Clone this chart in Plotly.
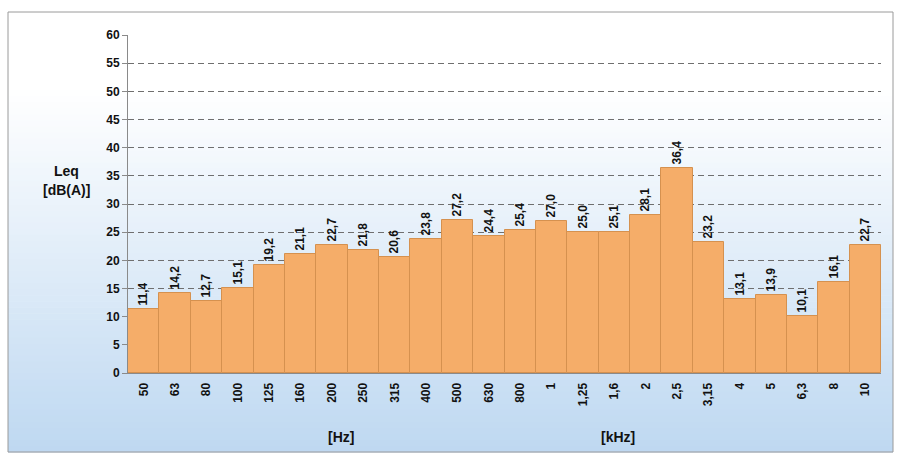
import plotly.graph_objects as go

# Third-octave band centre frequencies (tick labels) and measured Leq levels
bands = ["50", "63", "80", "100", "125", "160", "200", "250", "315", "400",
         "500", "630", "800", "1", "1,25", "1,6", "2", "2,5", "3,15", "4",
         "5", "6,3", "8", "10"]
leq_values = [11.4, 14.2, 12.7, 15.1, 19.2, 21.1, 22.7, 21.8, 20.6, 23.8,
              27.2, 24.4, 25.4, 27.0, 25.0, 25.1, 28.1, 36.4, 23.2, 13.1,
              13.9, 10.1, 16.1, 22.7]
y_ticks = list(range(0, 61, 5))

W, H = 899, 457
ML, MR, MT, MB = 128, 18, 35, 84
PW, PH = W - ML - MR, H - MT - MB


def px_to_paper(x, y):
    return (x - ML) / PW, (H - MB - y) / PH


FONT = "Liberation Sans, Arial, sans-serif"
labels = [f"{v:.1f}".replace(".", ",") for v in leq_values]

fig = go.Figure()
fig.add_trace(go.Bar(
    x=bands,
    y=leq_values,
    marker=dict(color="#F5AD69", line=dict(color="#D5914F", width=1)),
    text=labels,
    texttemplate="<b>%{text}</b>",
    textposition="outside",
    textangle=-90,
    textfont=dict(family=FONT, size=12, color="#111111"),
    cliponaxis=False,
    hoverinfo="skip",
))

# Framed background with a soft white-to-blue vertical gradient
shapes = []
fx0, fy0, fx1, fy1 = 8, 12, 893, 452
top_c = (255, 255, 255)
bot_c = (190, 216, 241)
n = 60
g_start = 90
for i in range(n):
    ya = g_start + (fy1 - g_start) * i / n
    yb = g_start + (fy1 - g_start) * (i + 1) / n
    t = (i + 0.5) / n
    c = tuple(int(round(top_c[k] + (bot_c[k] - top_c[k]) * t)) for k in range(3))
    x0p, y0p = px_to_paper(fx0, ya)
    x1p, y1p = px_to_paper(fx1, yb + 0.6)
    shapes.append(dict(type="rect", xref="paper", yref="paper", layer="below",
                       x0=x0p, x1=x1p, y0=y1p, y1=y0p,
                       fillcolor=f"rgb{c}", line=dict(width=0)))
x0p, y0p = px_to_paper(fx0, fy0)
x1p, y1p = px_to_paper(fx1, fy1)
shapes.append(dict(type="rect", xref="paper", yref="paper", layer="below",
                   x0=x0p, x1=x1p, y0=y1p, y1=y0p,
                   fillcolor="rgba(0,0,0,0)", line=dict(color="#9A9A9A", width=1)))

annotations = []
for txt, xpx, ypx in [("Leq", 66, 171), ("[dB(A)]", 66, 190),
                      ("[Hz]", 341, 437), ("[kHz]", 618, 437)]:
    ax, ay = px_to_paper(xpx, ypx)
    annotations.append(dict(text=f"<b>{txt}</b>", x=ax, y=ay, xref="paper", yref="paper",
                            showarrow=False, xanchor="center", yanchor="middle",
                            font=dict(family=FONT, size=14, color="#111111")))

fig.update_layout(
    width=W, height=H,
    margin=dict(l=ML, r=MR, t=MT, b=MB, pad=0),
    paper_bgcolor="white",
    plot_bgcolor="white",
    bargap=0,
    showlegend=False,
    shapes=shapes,
    annotations=annotations,
    font=dict(family=FONT, color="#111111"),
)
fig.update_xaxes(
    type="category",
    tickangle=-90,
    tickfont=dict(family=FONT, size=12, color="#111111", weight="bold"),
    showline=True, linecolor="#8A8A8A",
    ticks="outside", ticklen=4, tickcolor="rgba(0,0,0,0)",
    showgrid=False,
)
fig.update_yaxes(
    range=[0, 60],
    tickvals=y_ticks,
    tickfont=dict(family=FONT, size=12, color="#111111", weight="bold"),
    showline=True, linecolor="#8A8A8A",
    ticks="outside", ticklen=5, tickcolor="#8A8A8A",
    showgrid=True, gridcolor="#6F6F6F", gridwidth=1, griddash="6px,4px",
    zeroline=False,
)

fig.write_html("out.html")
